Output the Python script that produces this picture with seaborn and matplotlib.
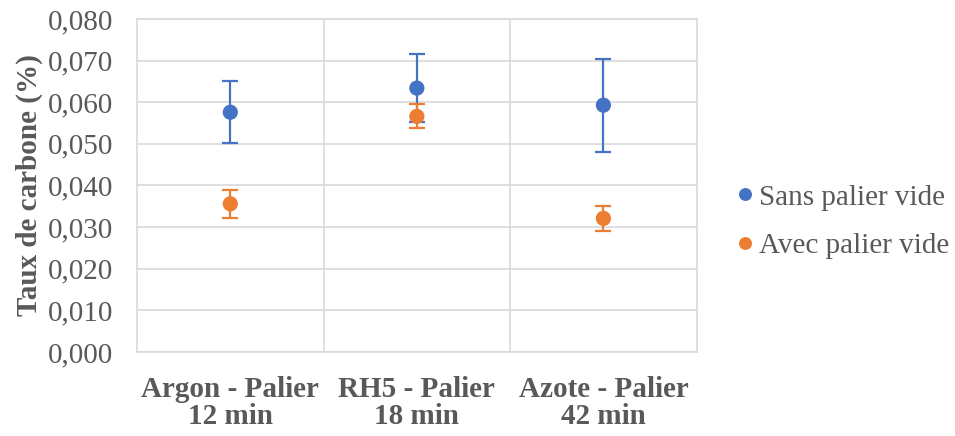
import matplotlib
matplotlib.use("Agg")
import matplotlib.pyplot as plt
import seaborn as sns
import pandas as pd
import numpy as np
from matplotlib.ticker import FuncFormatter, FixedLocator

categories = ["Argon - Palier\n12 min", "RH5 - Palier\n18 min", "Azote - Palier\n42 min"]
series = ["Sans palier vide", "Avec palier vide"]
sans_values = [0.0576, 0.0634, 0.0593]
sans_errors = [0.0074, 0.0082, 0.0112]
avec_values = [0.0356, 0.0566, 0.0321]
avec_errors = [0.0033, 0.0029, 0.0030]
colors = ["#4472C4", "#ED7D31"]

df = pd.DataFrame({
    "cat": categories * 2,
    "serie": [series[0]] * 3 + [series[1]] * 3,
    "val": sans_values + avec_values,
    "err": sans_errors + avec_errors,
})

sns.set_style("white")
plt.rcParams["font.family"] = ["Liberation Serif", "DejaVu Serif"]

FS = 21
fig = plt.figure(figsize=(9.55, 4.36), dpi=100)
ax = fig.add_axes([0.1435, 0.1927, 0.586, 0.7637])

for s, c in zip(series, colors):
    sub = df[df["serie"] == s]
    xs = [categories.index(k) for k in sub["cat"]]
    ax.errorbar(xs, sub["val"], yerr=sub["err"], fmt="none", ecolor=c,
                elinewidth=1.6, capsize=5.5, capthick=1.6, zorder=3)

sns.scatterplot(data=df, x="cat", y="val", hue="serie", palette=colors,
                s=120, edgecolor="none", ax=ax, zorder=4, legend=True)

ax.set_xlim(-0.5, 2.5)
ax.set_ylim(0, 0.08)
ax.yaxis.set_major_locator(FixedLocator(np.arange(0, 0.0801, 0.01)))
ax.yaxis.set_major_formatter(FuncFormatter(lambda v, p: f"{v:.3f}".replace(".", ",")))
ax.set_xticks([0, 1, 2])
ax.set_xticklabels(categories, fontweight="bold")
ax.xaxis.set_minor_locator(FixedLocator([0.5, 1.5]))
ax.grid(True, which="major", axis="y", color="#D9D9D9", linewidth=1.2)
ax.grid(True, which="minor", axis="x", color="#D9D9D9", linewidth=1.2)
ax.grid(False, which="major", axis="x")
for sp in ax.spines.values():
    sp.set_color("#D9D9D9")
    sp.set_linewidth(1.2)
ax.tick_params(axis="both", which="both", length=0, labelsize=FS, colors="#595959")
ax.tick_params(axis="y", pad=17)
ax.tick_params(axis="x", pad=17)
for t in ax.get_xticklabels():
    t.set_linespacing(1.03)
ax.set_xlabel("")
ax.set_ylabel("Taux de carbone (%)", fontsize=FS, fontweight="bold", color="#595959", labelpad=4)

leg = ax.legend(loc="center left", bbox_to_anchor=(730 / 955, 1 - 221.5 / 436),
                bbox_transform=fig.transFigure, frameon=False,
                fontsize=FS, labelcolor="#595959", handlelength=1.0, handletextpad=0.0,
                labelspacing=0.75, borderpad=0.0, borderaxespad=0.0, markerscale=0.85)

fig.savefig("out.png", dpi=100)
